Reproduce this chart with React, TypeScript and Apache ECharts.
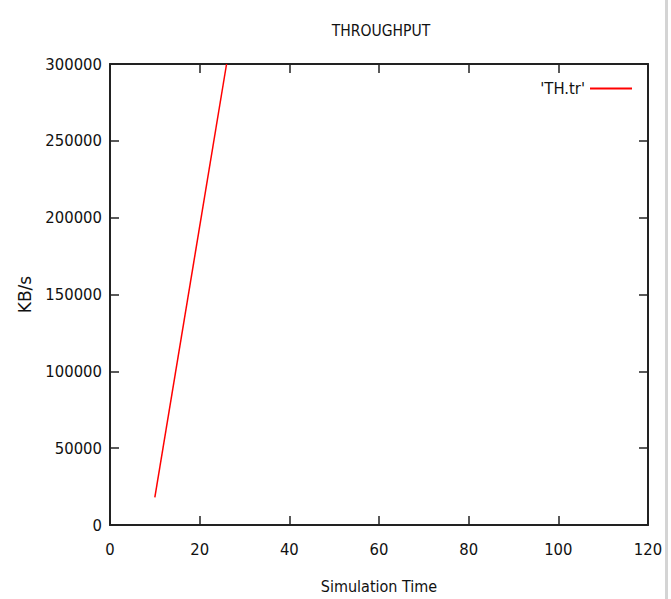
import React, { useEffect, useRef } from "react";
import * as echarts from "echarts";

const seriesName = "'TH.tr'";
const simTime = [10, 26];
const kbps = [18000, 300000];
const xTicks = [0, 20, 40, 60, 80, 100, 120];
const yTicks = [0, 50000, 100000, 150000, 200000, 250000, 300000];

const FONT = "'DejaVu Sans Condensed', 'Liberation Sans Narrow', 'DejaVu Sans', sans-serif";

export default function App() {
  const ref = useRef<HTMLDivElement>(null);
  useEffect(() => {
    if (!ref.current) return;
    const chart = echarts.init(ref.current, undefined, { renderer: "svg", width: 671, height: 599 });
    const axisLine = { show: true, onZero: false, lineStyle: { color: "#222", width: 2 } };
    const tick = { show: true, inside: true, length: 9, lineStyle: { color: "#222", width: 1.5 } };
    const xMin = xTicks[0], xMax = xTicks[xTicks.length - 1], xStep = xTicks[1] - xTicks[0];
    const yMin = yTicks[0], yMax = yTicks[yTicks.length - 1], yStep = yTicks[1] - yTicks[0];
    chart.setOption({
      animation: false,
      backgroundColor: "#fff",
      title: {
        text: "THROUGHPUT",
        left: 376,
        textAlign: "center",
        top: 18,
        textStyle: { fontFamily: FONT, fontSize: 15.5, fontWeight: "normal", color: "#111" },
      },
      legend: {
        data: [seriesName],
        right: 34,
        top: 75,
        align: "right",
        itemWidth: 42,
        itemHeight: 2,
        itemGap: 8,
        icon: "rect",
        textStyle: { fontFamily: FONT, fontSize: 16.5, color: "#111" },
      },
      grid: { left: 110, width: 538, top: 64, height: 464, containLabel: false },
      xAxis: [
        {
          type: "value",
          min: xMin,
          max: xMax,
          interval: xStep,
          name: "Simulation Time",
          nameLocation: "middle",
          nameGap: 53,
          nameTextStyle: { fontFamily: FONT, fontSize: 16, color: "#111" },
          axisLine,
          axisTick: tick,
          splitLine: { show: false },
          axisLabel: { fontFamily: FONT, fontSize: 16.5, color: "#111", margin: 16, showMaxLabel: true },
        },
        {
          type: "value",
          position: "top",
          min: xMin,
          max: xMax,
          interval: xStep,
          axisLine,
          axisTick: tick,
          splitLine: { show: false },
          axisLabel: { show: false },
        },
      ],
      yAxis: [
        {
          type: "value",
          min: yMin,
          max: yMax,
          interval: yStep,
          name: "KB/s",
          nameLocation: "middle",
          nameGap: 77,
          nameRotate: 90,
          nameTextStyle: { fontFamily: "'DejaVu Sans', sans-serif", fontSize: 17, color: "#111" },
          axisLine,
          axisTick: tick,
          splitLine: { show: false },
          axisLabel: {
            fontFamily: FONT,
            fontSize: 16.5,
            color: "#111",
            margin: 8,
            formatter: (v: number) => String(v),
          },
        },
        {
          type: "value",
          position: "right",
          min: yMin,
          max: yMax,
          interval: yStep,
          axisLine,
          axisTick: tick,
          splitLine: { show: false },
          axisLabel: { show: false },
        },
      ],
      series: [
        {
          name: seriesName,
          type: "line",
          data: simTime.map((t, i) => [t, kbps[i]]),
          showSymbol: false,
          clip: true,
          lineStyle: { color: "#ff0000", width: 1.5 },
          itemStyle: { color: "#ff0000" },
        },
      ],
      graphic: [
        {
          type: "rect",
          shape: { x: 665, y: 0, width: 3, height: 599 },
          style: { fill: "#d4d4d4" },
          silent: true,
        },
      ],
    });
    return () => chart.dispose();
  }, []);
  return (
    <div
      ref={ref}
      style={{ position: "fixed", left: 0, top: 0, width: 671, height: 599, background: "#fff" }}
    />
  );
}
